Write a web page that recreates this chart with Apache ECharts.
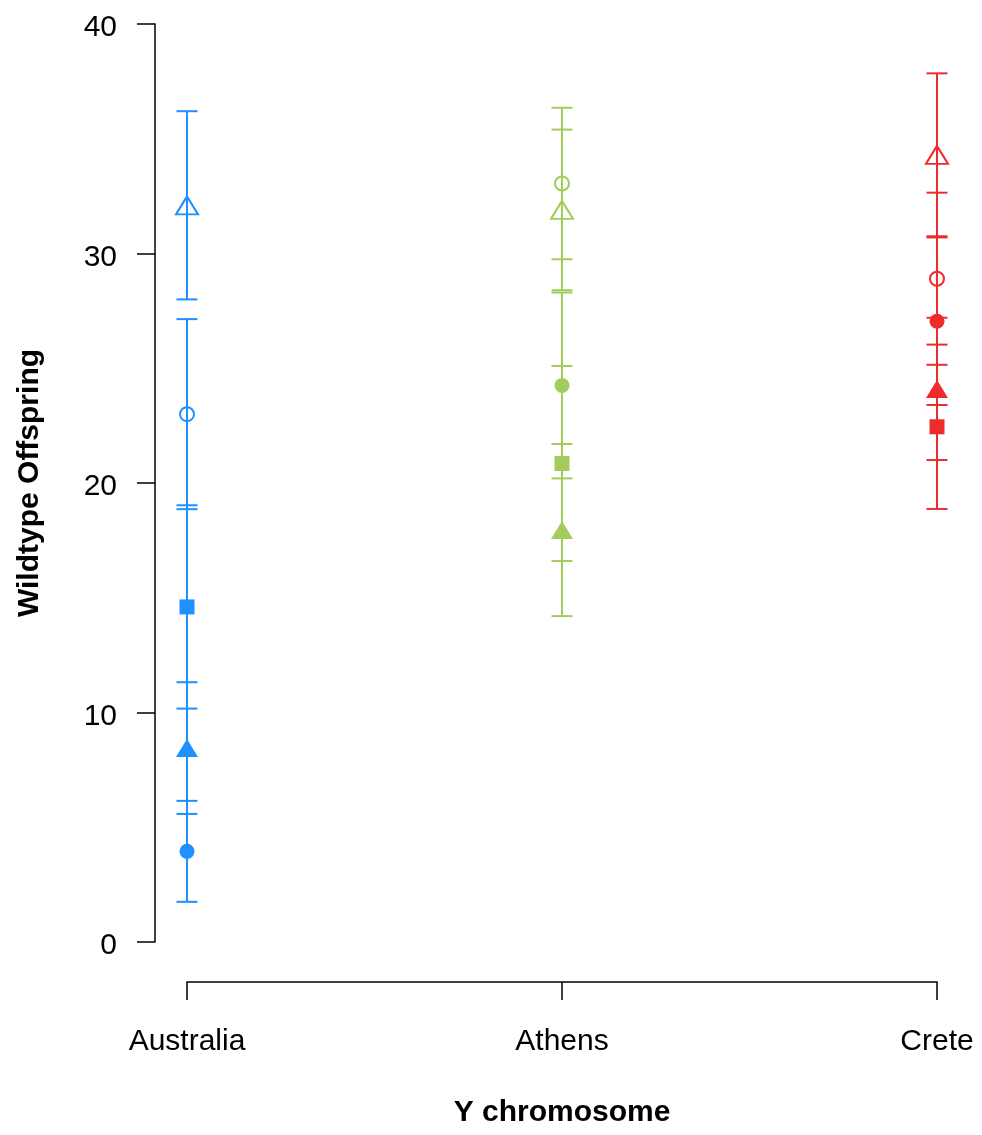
<!DOCTYPE html>
<html>
<head>
<meta charset="utf-8">
<script src="https://cdn.jsdelivr.net/npm/echarts@6/dist/echarts.min.js"></script>
<style>html,body{margin:0;padding:0;background:#fff;}#c{width:982px;height:1135px;}</style>
</head>
<body>
<div id="c"></div>
<script>
var chromosomes = ['Australia', 'Athens', 'Crete'];
var colors = ['#1E90FF', '#A2CD5A', '#EE2C2C'];
var yTicks = [0, 10, 20, 30, 40];

// means per treatment, ordered by chromosome
var openTriangleMean   = [32.1, 31.9, 34.3];
var openCircleMean     = [23.0, 33.05, 28.9];
var filledSquareMean   = [14.6, 20.85, 22.45];
var filledTriangleMean = [8.45, 17.95, 24.1];
var filledCircleMean   = [3.95, 24.25, 27.05];

// error bar half-widths
var openTriangleErr   = [4.1, 3.5, 3.55];
var openCircleErr     = [4.14, 3.3, 3.75];
var filledSquareErr   = [4.43, 4.25, 3.58];
var filledTriangleErr = [2.87, 3.75, 3.1];
var filledCircleErr   = [2.2, 4.05, 3.65];

var treatments = [
  {mean: openTriangleMean, err: openTriangleErr, symbol: 'triangle', size: [22, 18], open: true},
  {mean: openCircleMean, err: openCircleErr, symbol: 'circle', size: 14, open: true},
  {mean: filledSquareMean, err: filledSquareErr, symbol: 'rect', size: 15, open: false},
  {mean: filledTriangleMean, err: filledTriangleErr, symbol: 'triangle', size: [22, 18], open: false},
  {mean: filledCircleMean, err: filledCircleErr, symbol: 'circle', size: 15, open: false}
];

var font = "'Liberation Sans', Arial, sans-serif";

var errData = [];
treatments.forEach(function (t) {
  for (var i = 0; i < chromosomes.length; i++) {
    errData.push([i, t.mean[i] - t.err[i], t.mean[i] + t.err[i], i]);
  }
});

var series = [{
  type: 'custom',
  data: errData,
  encode: {x: 0, y: [1, 2]},
  z: 1,
  renderItem: function (params, api) {
    var x = api.value(0);
    var lo = api.coord([x, api.value(1)]);
    var hi = api.coord([x, api.value(2)]);
    var c = colors[api.value(3)];
    var hw = 10.5;
    var st = {stroke: c, lineWidth: 2};
    return {
      type: 'group',
      children: [
        {type: 'line', shape: {x1: lo[0], y1: lo[1], x2: hi[0], y2: hi[1]}, style: st},
        {type: 'line', shape: {x1: lo[0] - hw, y1: lo[1], x2: lo[0] + hw, y2: lo[1]}, style: st},
        {type: 'line', shape: {x1: hi[0] - hw, y1: hi[1], x2: hi[0] + hw, y2: hi[1]}, style: st}
      ]
    };
  }
}];

treatments.forEach(function (t) {
  series.push({
    type: 'scatter',
    symbol: t.symbol,
    symbolSize: t.size,
    z: 3,
    data: t.mean.map(function (v, i) {
      return {
        value: [i, v],
        itemStyle: t.open
          ? {color: 'rgba(0,0,0,0)', borderColor: colors[i], borderWidth: 2, opacity: 1}
          : {color: colors[i], borderWidth: 0, opacity: 1}
      };
    })
  });
});

var chart = echarts.init(document.getElementById('c'), null, {renderer: 'canvas'});
chart.setOption({
  animation: false,
  backgroundColor: '#fff',
  grid: {left: 187, right: 45, top: 24, bottom: 193},
  xAxis: {
    type: 'category',
    data: chromosomes,
    boundaryGap: false,
    offset: 40,
    name: 'Y chromosome',
    nameLocation: 'middle',
    nameGap: 116,
    nameTextStyle: {fontFamily: font, fontSize: 30, fontWeight: 'bold', color: '#000'},
    axisLine: {show: true, onZero: false, lineStyle: {color: '#000', width: 1.5}},
    axisTick: {show: true, length: 18, lineStyle: {color: '#000', width: 1.5}},
    axisLabel: {fontFamily: font, fontSize: 30, color: '#000', margin: 45},
    splitLine: {show: false}
  },
  yAxis: {
    type: 'value',
    min: yTicks[0],
    max: yTicks[yTicks.length - 1],
    interval: 10,
    offset: 32,
    name: 'Wildtype Offspring',
    nameLocation: 'middle',
    nameGap: 110,
    nameTextStyle: {fontFamily: font, fontSize: 30, fontWeight: 'bold', color: '#000'},
    axisLine: {show: true, onZero: false, lineStyle: {color: '#000', width: 1.5}},
    axisTick: {show: true, length: 18, lineStyle: {color: '#000', width: 1.5}},
    axisLabel: {
      margin: 38,
      formatter: function (v) { return '{a|' + v + '}'; },
      rich: {a: {fontFamily: font, fontSize: 30, color: '#000', padding: [8, 0, 0, 0]}}
    },
    splitLine: {show: false}
  },
  series: series
});
</script>
</body>
</html>
